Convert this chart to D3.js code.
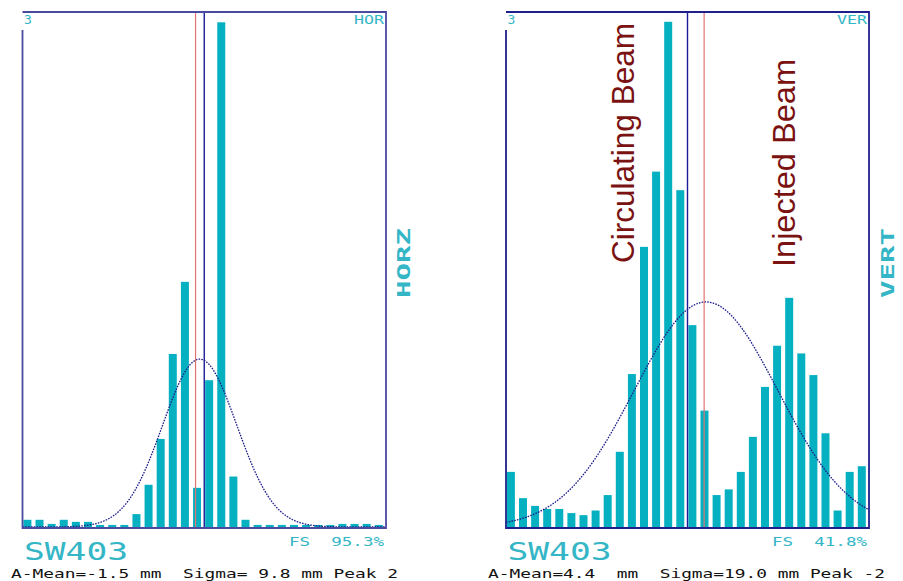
<!DOCTYPE html>
<html>
<head>
<meta charset="utf-8">
<script src="https://cdn.jsdelivr.net/npm/d3@7"></script>
<style>
html,body{margin:0;padding:0;background:#fff;}
svg{display:block;}
text{white-space:pre;}
</style>
</head>
<body>
<svg id="chart" width="903" height="581"></svg>
<script>
// ---- data (bar heights in % of full scale, 30 bins of 3.2 mm over -48..48 mm) ----
const xDomainMm = [-48, 48];
const binCount = 30;
const horValues = [1.4,1.4,0.6,1.4,1.0,1.0,0.4,0.4,0.4,2.5,8.2,17.1,33.6,47.6,7.6,28.5,98.0,9.8,1.4,0.4,0.4,0.4,0.4,0.4,0.4,0.4,0.6,0.6,0.6,0.4];
const vertValues = [10.7,5.6,4.1,3.5,3.5,2.7,2.3,3.2,6.2,14.6,29.7,54.4,69.0,98.1,65.4,39.2,22.6,6.2,7.3,10.7,17.5,27.2,35.2,44.5,33.7,29.5,18.2,3.2,10.7,11.8];
const horFit = {mean: -1.2, sigma: 9.8, amp: 32.6};
const vertFit = {mean: 4.9, sigma: 19.0, amp: 43.7};
const horMarker = -2.3;   // red line
const vertMarker = 4.4;
const centerLine = 0;     // blue line
const horTexts = {corner: "3", plane: "HOR", side: "HORZ", name: "SW403", fs: "FS  95.3%", stats: "A-Mean=-1.5 mm  Sigma= 9.8 mm Peak 2"};
const vertTexts = {corner: "3", plane: "VER", side: "VERT", name: "SW403", fs: "FS  41.8%", stats: "A-Mean=4.4  mm  Sigma=19.0 mm Peak -2"};
const annotations = [
  {text: "Circulating Beam", mm: -14.1},
  {text: "Injected Beam", mm: 28.3}
];

const svg = d3.select("#chart");
const mono = "'DejaVu Sans Mono', monospace";
const cyanText = "#34b6c6";
const barColor = "#05b1c1";

function panel(opts) {
  const {x0, x1, top, bottom, values, fit, marker, texts, frame, sideX, statsX, statsLen} = opts;
  const g = svg.append("g");
  const x = d3.scaleLinear().domain(xDomainMm).range([x0, x1]);
  const y = d3.scaleLinear().domain([0, 100]).range([bottom, top]);
  const binW = (xDomainMm[1] - xDomainMm[0]) / binCount;
  const pxBin = x(xDomainMm[0] + binW) - x(xDomainMm[0]);

  // bars
  g.selectAll("rect.bar").data(values).join("rect")
    .attr("class", "bar")
    .attr("x", (d, i) => x(xDomainMm[0] + i * binW) + 0.9)
    .attr("width", pxBin * 0.66)
    .attr("y", d => y(d))
    .attr("height", d => y(0) - y(d))
    .attr("fill", barColor);

  // gaussian fit
  const pts = d3.range(xDomainMm[0], xDomainMm[1] + 0.01, 0.25);
  const line = d3.line()
    .x(d => x(d))
    .y(d => y(fit.amp * Math.exp(-0.5 * Math.pow((d - fit.mean) / fit.sigma, 2))));
  g.append("path").datum(pts)
    .attr("d", line)
    .attr("fill", "none")
    .attr("stroke", "#1c1c8a")
    .attr("stroke-width", 1.3)
    .attr("stroke-dasharray", "1.6,1.2");

  // marker lines
  g.append("line")
    .attr("x1", x(marker)).attr("x2", x(marker))
    .attr("y1", y(100)).attr("y2", y(0))
    .attr("stroke", "#e07272").attr("stroke-width", 1.2);
  g.append("line")
    .attr("x1", x(centerLine)).attr("x2", x(centerLine))
    .attr("y1", y(100)).attr("y2", y(0))
    .attr("stroke", "#1c1c96").attr("stroke-width", 1.4);

  // frame (left edge starts below corner label)
  g.append("path")
    .attr("d", `M${x0},${top + 18} L${x0},${bottom + 1} L${x1},${bottom + 1} L${x1},${top} L${x0},${top}`)
    .attr("fill", "none").attr("stroke", frame).attr("stroke-width", 1.8);

  // texts
  g.append("text").attr("x", x0 + 1.5).attr("y", top + 12)
    .attr("font-family", mono).attr("font-size", 13).attr("fill", cyanText)
    .text(texts.corner);
  g.append("text").attr("x", x1 - 2).attr("y", top + 12)
    .attr("text-anchor", "end")
    .attr("font-family", mono).attr("font-size", 13).attr("fill", cyanText)
    .attr("textLength", 30).attr("lengthAdjust", "spacingAndGlyphs")
    .text(texts.plane);
  g.append("text")
    .attr("transform", `translate(${sideX},${298}) rotate(-90)`)
    .attr("font-family", mono).attr("font-size", 17).attr("font-weight", "bold").attr("fill", cyanText)
    .attr("textLength", 70).attr("lengthAdjust", "spacingAndGlyphs")
    .text(texts.side);
  g.append("text").attr("x", x0 + 1.5).attr("y", 560)
    .attr("font-family", mono).attr("font-size", 25).attr("fill", cyanText)
    .attr("textLength", 104).attr("lengthAdjust", "spacingAndGlyphs")
    .text(texts.name);
  g.append("text").attr("x", x1 - 97).attr("y", 546)
    .attr("font-family", mono).attr("font-size", 13).attr("fill", cyanText)
    .attr("textLength", 95).attr("lengthAdjust", "spacingAndGlyphs")
    .text(texts.fs);
  g.append("text").attr("x", statsX).attr("y", 578)
    .attr("font-family", mono).attr("font-size", 13).attr("fill", "#111")
    .attr("textLength", statsLen).attr("lengthAdjust", "spacingAndGlyphs")
    .text(texts.stats);
  return {g, x, y};
}

panel({x0: 22.5, x1: 386, top: 12, bottom: 527, values: horValues, fit: horFit, marker: horMarker,
       texts: horTexts, frame: "#4a4aa0", sideX: 410, statsX: 11, statsLen: 387});
const right = panel({x0: 506, x1: 869, top: 12, bottom: 527, values: vertValues, fit: vertFit, marker: vertMarker,
       texts: vertTexts, frame: "#20208c", sideX: 894, statsX: 488, statsLen: 397});

// annotations (rotated)
const annLen = [240, 208];
const annStart = [263, 267];
annotations.forEach((a, i) => {
  svg.append("text")
    .attr("transform", `translate(${right.x(a.mm)},${annStart[i]}) rotate(-90)`)
    .attr("font-family", "'Liberation Sans', Arial, sans-serif")
    .attr("font-size", 32)
    .attr("fill", "#7a1212")
    .attr("textLength", annLen[i]).attr("lengthAdjust", "spacingAndGlyphs")
    .text(a.text);
});
</script>
</body>
</html>
